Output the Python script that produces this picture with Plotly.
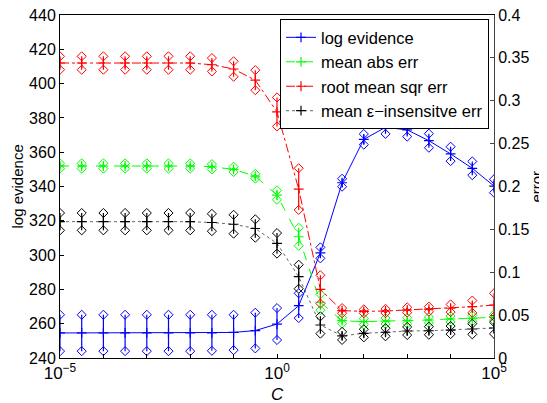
import plotly.graph_objects as go

# log10(C) grid
log_c = [-5, -4.5, -4, -3.5, -3, -2.5, -2, -1.5, -1, -0.5, 0,
         0.5, 1, 1.5, 2, 2.5, 3, 3.5, 4, 4.5, 5]
C = [10 ** e for e in log_c]

# log evidence (left axis): mean and half-width of error bar
log_ev = [254.6, 254.6, 254.6, 254.6, 254.6, 254.6, 254.6, 254.7, 254.9, 256.0, 259.8,
          270.5, 301.3, 342.2, 367.5, 374.5, 373.0, 366.7, 359.0, 350.6, 340.3]
log_ev_err = [10.6, 10.6, 10.6, 10.6, 10.6, 10.6, 10.6, 10.5, 10.3, 10.4, 9.3,
              7.2, 3.2, 2.3, 3.1, 3.8, 3.9, 4.1, 4.2, 4.0, 3.9]

# errors (right axis)
mae = [0.2239, 0.2239, 0.2239, 0.2239, 0.2239, 0.2239, 0.2239, 0.223, 0.220, 0.212, 0.190,
       0.1414, 0.065, 0.0435, 0.0424, 0.0431, 0.0435, 0.0443, 0.0455, 0.0463, 0.0474]
mae_err = [0.0031, 0.0031, 0.0031, 0.0031, 0.0031, 0.0031, 0.0031, 0.0031, 0.0031, 0.0028, 0.0055,
           0.0105, 0.0093, 0.0035, 0.0035, 0.0035, 0.0035, 0.0035, 0.0035, 0.0035, 0.0035]

rmse = [0.344, 0.344, 0.344, 0.344, 0.344, 0.344, 0.344, 0.342, 0.337, 0.324, 0.287,
        0.197, 0.080, 0.0552, 0.0544, 0.0548, 0.056, 0.0569, 0.058, 0.0598, 0.0618]
rmse_err = [0.0078, 0.0078, 0.0078, 0.0078, 0.0078, 0.0078, 0.0078, 0.0078, 0.009, 0.0117, 0.0169,
            0.0243, 0.0165, 0.003, 0.0023, 0.0025, 0.0031, 0.003, 0.0045, 0.0072, 0.0136]

eps_err = [0.159, 0.159, 0.159, 0.159, 0.159, 0.159, 0.159, 0.158, 0.156, 0.151, 0.1337,
           0.0948, 0.0385, 0.0258, 0.0288, 0.030, 0.0315, 0.0318, 0.0326, 0.0338, 0.035]
eps_err_err = [0.0101, 0.0101, 0.0101, 0.0101, 0.0101, 0.0101, 0.0101, 0.0101, 0.011, 0.0107, 0.012,
               0.014, 0.0101, 0.0047, 0.0047, 0.0047, 0.0047, 0.0047, 0.0047, 0.0062, 0.0068]

series = [
    ("log evidence", log_ev, log_ev_err, "#0000ff", "solid", "y"),
    ("mean abs err", mae, mae_err, "#00ff00", "dash", "y2"),
    ("root mean sqr err", rmse, rmse_err, "#ff0000", "dashdot", "y2"),
    ("mean \u03b5\u2212insensitve err", eps_err, eps_err_err, "#000000", "dot", "y2"),
]

FONT = "Liberation Sans, Arial, Helvetica, sans-serif"
fig = go.Figure()

for name, m, e, col, dash, ax in series:
    lc = "rgba(0,0,0,0.6)" if col == "#000000" else col
    fig.add_trace(go.Scatter(
        x=C, y=m, name=name, yaxis=ax, mode="lines+markers",
        line=dict(color=lc, width=1, dash=dash),
        marker=dict(symbol="cross-thin-open", size=7, color=col,
                    line=dict(color=col, width=1.2)),
        error_y=dict(type="data", array=e, visible=True, color=col,
                     thickness=1.2, width=0),
    ))
    ends_y = [a + b for a, b in zip(m, e)] + [a - b for a, b in zip(m, e)]
    fig.add_trace(go.Scatter(
        x=C + C, y=ends_y, yaxis=ax, mode="markers", showlegend=False,
        hoverinfo="skip",
        marker=dict(symbol="diamond-open", size=7, color=col,
                    line=dict(color=col, width=1)),
    ))

tickvals = [10 ** k for k in range(-5, 6)]
ticktext = ["10<sup>\u22125</sup>" if k == -5 else ("10<sup>0</sup>" if k == 0 else
            ("10<sup>5</sup>" if k == 5 else "")) for k in range(-5, 6)]

fig.update_layout(
    width=539, height=395,
    margin=dict(l=52, r=53, t=7, b=45, autoexpand=False),
    paper_bgcolor="white", plot_bgcolor="white",
    font=dict(family=FONT, size=16, color="black"),
    showlegend=True,
    legend=dict(x=0.9885, y=0.988, xanchor="right", yanchor="top",
                bgcolor="white", bordercolor="black", borderwidth=1,
                font=dict(size=16.5, family=FONT), tracegroupgap=0,
                itemwidth=30),
    xaxis=dict(type="log", range=[-5, 5], tickvals=tickvals, ticktext=ticktext,
               ticks="inside", ticklen=4, tickcolor="black",
               showline=True, linecolor="black", linewidth=1, mirror=True,
               showgrid=False, zeroline=False, automargin=False,
               ticklabeloverflow="allow",
               tickfont=dict(size=17, family=FONT)),
    yaxis=dict(range=[240, 440], dtick=20, ticks="inside", ticklen=4,
               tickcolor="black", showline=True, linecolor="black", linewidth=1,
               showgrid=False, zeroline=False, automargin=False,
               ticklabeloverflow="allow",
               tickfont=dict(size=16)),
    yaxis2=dict(range=[0, 0.4], dtick=0.05, overlaying="y", side="right",
                ticks="inside", ticklen=4, tickcolor="#444",
                showline=True, linecolor="#444", linewidth=1,
                showgrid=False, zeroline=False, automargin=False,
                ticklabeloverflow="allow",
                tickfont=dict(size=16)),
    annotations=[
        dict(text="log evidence", xref="paper", yref="paper",
             x=-0.0968, y=0.5, xanchor="center", yanchor="middle",
             textangle=-90, showarrow=False, font=dict(size=15)),
        dict(text="error", xref="paper", yref="paper",
             x=1.097, y=0.5, xanchor="center", yanchor="middle",
             textangle=-90, showarrow=False, font=dict(size=15)),
        dict(text="<i>C</i>", xref="paper", yref="paper",
             x=0.5, y=-0.105, xanchor="center", yanchor="middle",
             showarrow=False, font=dict(size=17)),
    ],
)

fig.write_html("out.html")
